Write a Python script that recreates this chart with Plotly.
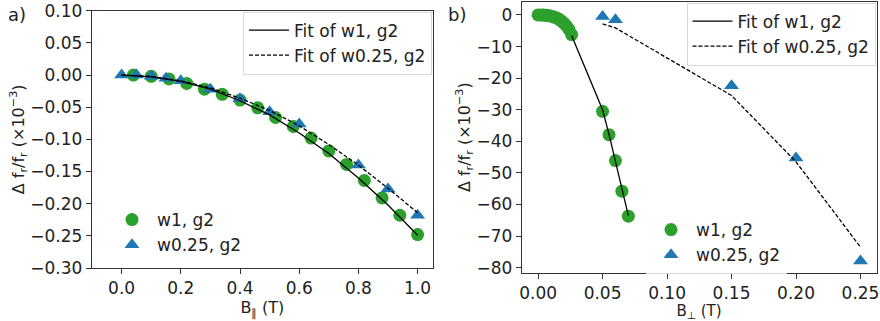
import plotly.graph_objects as go

# ---------------- data: panel a (parallel field) ----------------
a_w1_x = [0.04, 0.10, 0.16, 0.22, 0.28, 0.34, 0.40, 0.46, 0.52, 0.58, 0.64,
          0.70, 0.76, 0.82, 0.88, 0.94, 1.00]
a_w1_y = [0.000, -0.002, -0.006, -0.013, -0.022, -0.030, -0.039, -0.051, -0.066,
          -0.080, -0.098, -0.118, -0.139, -0.164, -0.191, -0.218, -0.248]
a_w025_x = [0.00, 0.05, 0.10, 0.15, 0.20, 0.30, 0.40, 0.50, 0.60, 0.80, 0.90, 1.00]
a_w025_y = [0.000, 0.000, -0.002, -0.005, -0.009, -0.022, -0.037, -0.057, -0.076,
            -0.140, -0.177, -0.218]
a_fit_x = [0.0, 0.1, 0.2, 0.3, 0.4, 0.5, 0.6, 0.7, 0.8, 0.9, 1.0]
a_fit_w1 = [0.000, -0.003, -0.010, -0.022, -0.040, -0.062, -0.090, -0.122, -0.160,
            -0.202, -0.249]
a_fit_w025 = [0.000, -0.002, -0.009, -0.020, -0.036, -0.055, -0.079, -0.108, -0.140,
              -0.176, -0.214]

# ---------------- data: panel b (perpendicular field) ----------------
b_w1_x = [0.000, 0.002, 0.004, 0.006, 0.008, 0.010, 0.012, 0.014, 0.016, 0.018,
          0.020, 0.022, 0.024, 0.026, 0.050, 0.055, 0.060, 0.065, 0.070]
b_w1_y = [0.0, 0.0, -0.05, -0.1, -0.2, -0.4, -0.6, -0.9, -1.3, -1.9,
          -2.6, -3.5, -4.6, -6.2, -30.5, -37.9, -46.1, -55.8, -63.7]
b_w025_x = [0.05, 0.06, 0.15, 0.20, 0.25]
b_w025_y = [-0.5, -1.5, -22.4, -45.3, -77.9]
b_fit_w1_x = [0.026, 0.050, 0.055, 0.060, 0.065, 0.070]
b_fit_w1_y = [-6.5, -30.0, -37.8, -46.0, -55.0, -63.5]
b_fit_w025_x = [0.05, 0.06, 0.15, 0.20, 0.25]
b_fit_w025_y = [-2.8, -4.1, -25.5, -46.5, -73.5]

GREEN = "#2ca02c"
BLUE = "#1f77b4"
FONT = "DejaVu Sans"
W, H = 880, 321

fig = go.Figure()

# panel a
fig.add_trace(go.Scatter(x=a_w1_x, y=a_w1_y, mode="markers", name="w1, g2",
                         marker=dict(symbol="circle", size=13, color=GREEN),
                         xaxis="x", yaxis="y", legend="legend3", legendgroup="a1"))
fig.add_trace(go.Scatter(x=a_w025_x, y=a_w025_y, mode="markers", name="w0.25, g2",
                         marker=dict(symbol="triangle-up", size=13, color=BLUE),
                         xaxis="x", yaxis="y", legend="legend3", legendgroup="a2"))
fig.add_trace(go.Scatter(x=a_fit_x, y=a_fit_w1, mode="lines", name="Fit of w1, g2",
                         line=dict(color="black", width=1.3),
                         xaxis="x", yaxis="y", legend="legend", legendgroup="a3"))
fig.add_trace(go.Scatter(x=a_fit_x, y=a_fit_w025, mode="lines", name="Fit of w0.25, g2",
                         line=dict(color="black", width=1.3, dash="4px,2px"),
                         xaxis="x", yaxis="y", legend="legend", legendgroup="a4"))

# panel b
fig.add_trace(go.Scatter(x=b_w1_x, y=b_w1_y, mode="markers", name="w1, g2",
                         marker=dict(symbol="circle", size=13, color=GREEN),
                         xaxis="x2", yaxis="y2", legend="legend4", legendgroup="b1"))
fig.add_trace(go.Scatter(x=b_w025_x, y=b_w025_y, mode="markers", name="w0.25, g2",
                         marker=dict(symbol="triangle-up", size=13, color=BLUE),
                         xaxis="x2", yaxis="y2", legend="legend4", legendgroup="b2"))
fig.add_trace(go.Scatter(x=b_fit_w1_x, y=b_fit_w1_y, mode="lines", name="Fit of w1, g2",
                         line=dict(color="black", width=1.3),
                         xaxis="x2", yaxis="y2", legend="legend2", legendgroup="b3"))
fig.add_trace(go.Scatter(x=b_fit_w025_x, y=b_fit_w025_y, mode="lines", name="Fit of w0.25, g2",
                         line=dict(color="black", width=1.3, dash="4px,2px"),
                         xaxis="x2", yaxis="y2", legend="legend2", legendgroup="b4"))

axis_common = dict(showgrid=False, zeroline=False, showline=True, mirror=True,
                   linecolor="#333333", linewidth=1, ticks="outside", ticklen=5,
                   tickcolor="#333333", tickfont=dict(family=FONT, size=17, color="#222"),
                   automargin=False)

ytitle = "Δ f<sub>r</sub>/f<sub>r</sub> (×10<sup>−3</sup>)"

legend_common = dict(font=dict(family=FONT, size=17, color="#222"),
                     bgcolor="rgba(255,255,255,0.8)", bordercolor="#d9d9d9",
                     borderwidth=1, tracegroupgap=6, traceorder="normal",
                     itemwidth=40)

fig.update_layout(
    width=W, height=H,
    margin=dict(l=0, r=0, t=0, b=0),
    paper_bgcolor="white", plot_bgcolor="white",
    font=dict(family=FONT, size=17, color="#222"),
    xaxis=dict(axis_common, domain=[91.7 / W, 433 / W], range=[-0.101, 1.052],
               dtick=0.2, tick0=0, tickformat=".1f", anchor="y",
               title=dict(text="B<sub>∥</sub> (T)", font=dict(family=FONT, size=16), standoff=4)),
    yaxis=dict(axis_common, domain=[1 - 268 / H, 1 - 10.7 / H], range=[-0.30, 0.10],
               dtick=0.05, tick0=0, tickformat=".2f", anchor="x",
               title=dict(text=ytitle, font=dict(family=FONT, size=16), standoff=0)),
    xaxis2=dict(axis_common, domain=[521.7 / W, 876.5 / W], range=[-0.0127, 0.2624],
                dtick=0.05, tick0=0, tickformat=".2f", anchor="y2",
                title=dict(text="B<sub>⊥</sub> (T)", font=dict(family=FONT, size=15), standoff=4)),
    yaxis2=dict(axis_common, domain=[1 - 272.7 / H, 1 - 1.7 / H], range=[-81.6, 4.2],
                dtick=10, tick0=0, tickformat="d", anchor="x2",
                title=dict(text=ytitle, font=dict(family=FONT, size=16), standoff=0)),
    legend=dict(legend_common, x=432 / W, xanchor="right", y=1 - 11.5 / H, yanchor="top"),
    legend2=dict(legend_common, x=875.5 / W, xanchor="right", y=1 - 2.5 / H, yanchor="top"),
    legend3=dict(legend_common, x=106 / W, xanchor="left", y=1 - 201 / H, yanchor="top",
                 bordercolor="rgba(0,0,0,0)"),
    legend4=dict(legend_common, x=645 / W, xanchor="left", y=1 - 211 / H, yanchor="top",
                 bordercolor="rgba(0,0,0,0)"),
    showlegend=True,
    annotations=[
        dict(text="a)", x=6 / W, y=1 - 14 / H, xref="paper", yref="paper",
             xanchor="left", yanchor="middle", showarrow=False,
             font=dict(family=FONT, size=18, color="#222")),
        dict(text="b)", x=446 / W, y=1 - 14 / H, xref="paper", yref="paper",
             xanchor="left", yanchor="middle", showarrow=False,
             font=dict(family=FONT, size=18, color="#222")),
    ],
)

fig.write_html("out.html", config={"displayModeBar": False},
               post_script="document.body.style.margin='0';document.body.style.padding='0';")
